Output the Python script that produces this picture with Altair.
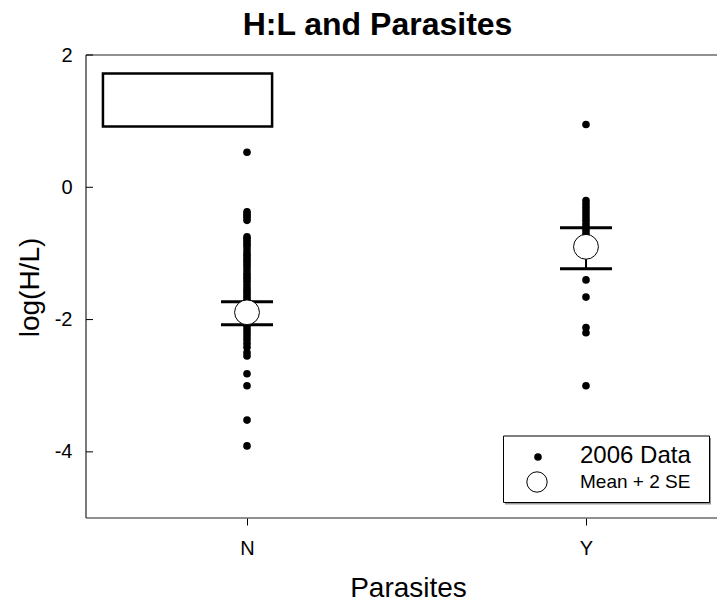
import altair as alt
import pandas as pd

# ---------------- data ----------------
categories = ["N", "Y"]
n_values = [0.53, -0.37, -0.40, -0.43, -0.46, -0.50, -0.75, -0.78, -0.82, -0.86,
            -0.90, -0.95, -1.00, -1.04, -1.08, -1.12, -1.16, -1.20, -1.25, -1.30,
            -1.34, -1.38, -1.42, -1.47, -1.52, -1.56, -1.60, -1.64, -1.68, -1.72,
            -1.78, -1.82, -1.86, -1.90, -1.95, -2.00, -2.05, -2.10, -2.15, -2.20,
            -2.25, -2.30, -2.36, -2.42, -2.50, -2.55, -2.82, -3.00, -3.52, -3.91]
y_values = [0.95, -0.20, -0.25, -0.30, -0.35, -0.40, -0.45, -0.50, -0.55, -0.60,
            -0.65, -0.70, -1.40, -1.66, -2.12, -2.20, -3.00]
means = [-1.89, -0.90]
upper = [-1.73, -0.61]
lower = [-2.08, -1.23]
y_ticks = [2, 0, -2, -4]
# empty box in the upper-left corner (data units)
box_x = [0.575, 1.074]
box_y = [0.92, 1.72]

FONT = "Liberation Sans"
pos = {c: i + 1 for i, c in enumerate(categories)}

pts = pd.DataFrame({
    "Parasites": ["N"] * len(n_values) + ["Y"] * len(y_values),
    "val": n_values + y_values,
})
pts["xpos"] = pts["Parasites"].map(pos)

summ = pd.DataFrame({"Parasites": categories, "mean": means, "hi": upper, "lo": lower})
summ["xpos"] = summ["Parasites"].map(pos)

caps = pd.DataFrame({
    "xpos": [pos[c] for c in categories] * 2,
    "val": upper + lower,
})

box = pd.DataFrame({"x1": [box_x[0]], "x2": [box_x[1]], "y1": [box_y[0]], "y2": [box_y[1]]})
ticks = pd.DataFrame({"val": y_ticks})
one = pd.DataFrame({"a": [0]})

W, H = 601, 463
xscale = alt.Scale(domain=[0.525, 2.298], nice=False, zero=False)
yscale = alt.Scale(domain=[-5, 2], nice=False, zero=False)

xaxis = alt.Axis(values=[1, 2], labelExpr="datum.value == 1 ? 'N' : 'Y'",
                 title="Parasites", tickSize=7, tickColor="#000", tickWidth=1,
                 domain=False, grid=False, labelFontSize=20, labelPadding=13,
                 labelColor="#000", labelFont=FONT, titleFont=FONT,
                 titleFontSize=28, titleFontWeight="normal", titleColor="#000",
                 titleX=322, titleY=78, titleBaseline="alphabetic", titleAlign="center")
yaxis = alt.Axis(values=y_ticks, labelExpr="'' + datum.value", title="log(H/L)",
                 tickSize=0, domain=False, grid=False,
                 labelFontSize=20, labelPadding=14, labelColor="#000", labelFont=FONT,
                 titleFont=FONT, titleFontSize=28, titleFontWeight="normal",
                 titleColor="#000", titleAngle=-90, titleX=-56, titleY=232,
                 titleBaseline="middle", titleAlign="center")

X = alt.X("xpos:Q", scale=xscale, axis=xaxis)
Y = alt.Y("val:Q", scale=yscale, axis=yaxis)

# frame: left, top and bottom edges (right edge lies outside the picture)
frame_left = alt.Chart(one).mark_rule(color="#222", strokeWidth=1.2).encode(
    x=alt.value(0), y=alt.value(0), y2=alt.value(H))
frame_top = alt.Chart(one).mark_rule(color="#222", strokeWidth=1.2).encode(
    x=alt.value(0), x2=alt.value(W + 30), y=alt.value(0))
frame_bottom = alt.Chart(one).mark_rule(color="#222", strokeWidth=1.2).encode(
    x=alt.value(0), x2=alt.value(W + 30), y=alt.value(H))

blank = alt.Chart(box).mark_rect(fill="white", stroke="#000", strokeWidth=2.5).encode(
    x=alt.X("x1:Q", scale=xscale, axis=xaxis), x2="x2:Q",
    y=alt.Y("y1:Q", scale=yscale, axis=yaxis), y2="y2:Q")

vrule = alt.Chart(summ).mark_rule(color="#000", strokeWidth=2).encode(
    x=X, y=alt.Y("lo:Q", scale=yscale, axis=yaxis), y2="hi:Q")

dots = alt.Chart(pts).mark_circle(color="#000", opacity=1, size=58).encode(x=X, y=Y)

capm = alt.Chart(caps).mark_tick(color="#000", orient="horizontal", size=52,
                                  thickness=3, opacity=1).encode(x=X, y=Y)

meanc = alt.Chart(summ).mark_point(shape="circle", filled=True, fill="white",
                                   stroke="#000", strokeWidth=1, size=616,
                                   opacity=1).encode(
    x=X, y=alt.Y("mean:Q", scale=yscale, axis=yaxis))

yticks = alt.Chart(ticks).mark_rule(color="#000", strokeWidth=1).encode(
    x=alt.value(0), x2=alt.value(7), y=Y)

# legend (pixel positions relative to the plot area)
leg_shadow = alt.Chart(one).mark_rect(fill="#999").encode(
    x=alt.value(419), x2=alt.value(625), y=alt.value(383), y2=alt.value(449.5))
leg_box = alt.Chart(one).mark_rect(fill="white", stroke="#000", strokeWidth=1).encode(
    x=alt.value(417.5), x2=alt.value(623.5), y=alt.value(381), y2=alt.value(447.5))
leg_dot = alt.Chart(one).mark_circle(color="#000", opacity=1, size=58).encode(
    x=alt.value(452), y=alt.value(402))
leg_circ = alt.Chart(one).mark_point(shape="circle", fill="white", filled=True,
                                     stroke="#000", strokeWidth=1, size=415,
                                     opacity=1).encode(
    x=alt.value(451), y=alt.value(427))
leg_t1 = alt.Chart(one).mark_text(text="2006 Data", font=FONT, fontSize=24,
                                  align="left", baseline="middle", color="#000").encode(
    x=alt.value(494), y=alt.value(401))
leg_t2 = alt.Chart(one).mark_text(text="Mean + 2 SE", font=FONT, fontSize=19,
                                  align="left", baseline="middle", color="#000").encode(
    x=alt.value(494), y=alt.value(427))

chart = alt.layer(
    frame_left, frame_top, frame_bottom,
    blank, vrule, dots, capm, meanc, yticks,
    leg_shadow, leg_box, leg_dot, leg_circ, leg_t1, leg_t2,
).properties(
    width=W, height=H,
    title=alt.TitleParams("H:L and Parasites", font=FONT, fontSize=32,
                          fontWeight="bold", color="#000", anchor="middle",
                          dx=-9, offset=3),
    autosize=alt.AutoSizeParams(type="none"),
    padding={"left": 86, "top": 55, "right": 30, "bottom": 84},
    background="white",
).configure_view(
    stroke="transparent", strokeWidth=0
)

chart.save("out.html", embed_options={"renderer": "svg", "actions": False})
